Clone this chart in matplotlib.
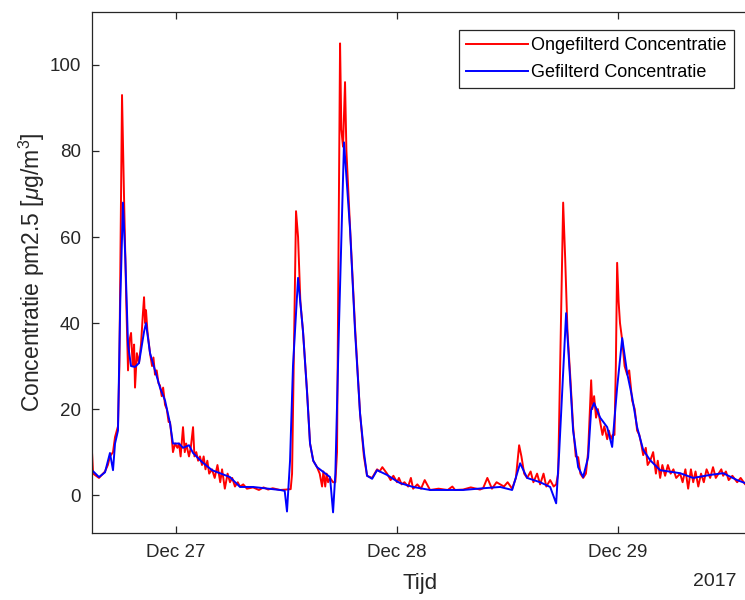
import numpy as np
import pandas as pd
import matplotlib
matplotlib.use("Agg")
import matplotlib.pyplot as plt
import matplotlib.dates as mdates

plt.rcParams['font.family'] = ['Liberation Sans', 'DejaVu Sans']
plt.rcParams['mathtext.fontset'] = 'custom'
plt.rcParams['mathtext.rm'] = 'Liberation Sans'
plt.rcParams['mathtext.it'] = 'Liberation Sans:italic'

# hours since 2017-12-26 00:00
blue_hours = [14.88, 15.64, 16.29, 16.83, 17.16, 17.38, 17.70, 17.95, 18.24, 18.50, 18.79, 19.12,
              19.55, 19.98, 20.53, 20.74, 21.18, 21.72, 22.26, 22.81, 23.35, 23.67, 24.33, 24.76,
              25.41, 25.85, 26.82, 27.91, 29.86, 30.95, 32.36, 35.29, 35.80, 36.05, 36.38, 36.70,
              37.25, 37.79, 38.23, 38.55, 38.90, 39.31, 40.72, 41.05, 41.30, 41.70, 42.24, 42.90,
              43.44, 43.98, 44.40, 44.74, 45.29, 45.83, 46.91, 48.00, 48.33, 49.74, 51.58, 55.17,
              57.34, 59.19, 60.49, 61.36, 62.12, 63.53, 64.62, 65.27, 65.60, 66.35, 66.79, 67.11,
              67.66, 68.20, 68.74, 69.07, 69.39, 70.05, 70.81, 71.35, 71.89, 72.44, 72.98, 73.52,
              74.06, 74.72, 75.48, 76.56, 78.73, 80.15, 81.99, 83.40, 84.92, 85.79, 87.40]
blue_values = [5.8, 4.2, 5.3, 9.8, 5.8, 12, 15, 45, 68, 55, 35, 30,
               29.8, 30.7, 38, 40, 33, 29, 25, 22, 16.7, 12, 12, 11,
               11.6, 9.8, 7.7, 5.8, 4.2, 1.9, 1.9, 1.2, 1.0, -3.8, 8, 30,
               50.5, 38, 23.7, 12, 8, 6.5, 4.2, -4, 5, 40, 82, 61.6,
               38, 19, 10, 4.5, 3.8, 5.8, 4.7, 3.2, 2.8, 1.9, 1.2, 1.2,
               1.6, 1.9, 1.2, 7.4, 4, 3, 1.9, -1.9, 10, 42.3, 26.7, 15,
               6.5, 4.2, 8.8, 19.8, 21.4, 18, 15.8, 11.2, 25, 36.5, 28.3, 22.8,
               15.8, 10.5, 8.1, 5.8, 5.1, 4, 4.7, 5.1, 3.5, 2.8, 2.5]

red_hours = [14.88, 15.0, 15.64, 16.29, 16.6, 16.83, 17.16, 17.38, 17.70, 17.85, 18.14, 18.35,
             18.60, 18.79, 18.95, 19.12, 19.30, 19.45, 19.55, 19.75, 19.98, 20.2, 20.40, 20.53,
             20.64, 20.74, 20.9, 21.18, 21.4, 21.55, 21.72, 21.9, 22.1, 22.26, 22.45, 22.6,
             22.81, 23.0, 23.2, 23.35, 23.55, 23.67, 23.9, 24.15, 24.33, 24.5, 24.76, 24.95,
             25.1, 25.41, 25.6, 25.85, 26.0, 26.2, 26.4, 26.6, 26.82, 27.0, 27.2, 27.4,
             27.6, 27.91, 28.2, 28.5, 28.8, 29.0, 29.3, 29.6, 29.86, 30.1, 30.4, 30.7,
             30.95, 31.3, 31.7, 32.36, 33.0, 33.5, 34.0, 34.5, 35.29, 36.0, 36.45, 36.60,
             37.03, 37.25, 37.5, 37.79, 38.23, 38.55, 38.9, 39.31, 39.6, 39.86, 40.0, 40.2,
             40.35, 40.51, 40.72, 41.05, 41.3, 41.48, 41.65, 41.81, 41.95, 42.13, 42.35, 42.5,
             42.9, 43.44, 43.98, 44.4, 44.74, 45.29, 45.83, 46.1, 46.4, 46.91, 47.3, 47.6,
             48.0, 48.2, 48.5, 48.8, 49.2, 49.5, 49.74, 50.2, 50.6, 51.0, 51.58, 52.5,
             53.5, 54.0, 54.3, 55.17, 56.0, 57.0, 57.34, 57.8, 58.3, 58.8, 59.19, 59.6,
             60.0, 60.49, 60.9, 61.25, 61.5, 61.8, 62.12, 62.5, 62.8, 63.2, 63.53, 63.9,
             64.2, 64.62, 65.0, 65.27, 65.49, 65.7, 66.03, 66.25, 66.5, 66.79, 67.11, 67.4,
             67.66, 67.9, 68.2, 68.5, 68.74, 68.9, 69.07, 69.2, 69.39, 69.6, 69.8, 70.05,
             70.3, 70.5, 70.81, 71.0, 71.2, 71.4, 71.6, 71.75, 71.89, 72.05, 72.2, 72.44,
             72.7, 72.98, 73.2, 73.52, 73.8, 74.06, 74.3, 74.5, 74.72, 75.0, 75.2, 75.48,
             75.8, 76.1, 76.3, 76.56, 76.8, 77.1, 77.4, 77.7, 78.0, 78.3, 78.73, 79.0,
             79.3, 79.6, 79.9, 80.15, 80.4, 80.7, 81.0, 81.3, 81.6, 81.99, 82.3, 82.6,
             82.9, 83.2, 83.4, 83.7, 84.0, 84.4, 84.92, 85.3, 85.79, 86.5, 87.4]
red_values = [10, 5, 4, 5.5, 7, 9, 10, 13.5, 16, 30, 93, 70,
              45, 29, 36, 37.7, 30, 35, 25, 33, 30.7, 35, 42, 46,
              40, 43, 38, 33, 30, 32, 28, 29, 26, 25.5, 23, 25,
              21, 20, 17, 17, 13, 10, 12, 11, 12, 9, 15.8, 10,
              12, 9, 11, 15.8, 9, 10, 8, 9, 7, 9, 6, 8,
              5, 6, 4, 7, 3, 6, 1.5, 5, 3, 4, 2, 3,
              2, 2.5, 1.5, 1.8, 1.2, 1.8, 1.3, 1.6, 1.2, 1.3, 1.4, 5,
              66, 60, 45, 38, 24, 12, 8, 6.5, 5, 2, 5.5, 2,
              5, 3, 4, 3, 3, 10, 60, 105, 85, 81, 96, 80,
              62, 39, 19, 9, 4.5, 4, 6, 5.5, 6.5, 5, 3.5, 4.5,
              3, 4, 2.5, 3, 2, 4, 1.5, 2.5, 1.5, 3.5, 1.2, 1.5,
              1.2, 2, 1.2, 1.3, 1.8, 1.3, 1.6, 4, 1.5, 3, 2.5, 2,
              3, 1.5, 4, 11.6, 9, 5, 4, 5.5, 3, 5, 2.5, 5,
              2, 3.5, 2, 2.5, 5, 30, 68, 55, 38, 28, 16, 9,
              8.8, 5, 4, 5, 10, 18, 26.7, 20, 23, 18, 20, 17,
              14, 16, 13, 15, 13, 14, 14, 30, 54, 45, 40, 36,
              30, 28, 29, 22, 20, 15, 14, 12, 9.3, 11, 7, 8,
              10, 5, 8, 4, 7, 4.5, 7, 5, 6, 4, 5, 3,
              6, 1.5, 6, 3, 5.5, 2, 5, 3, 6, 4, 6.5, 4,
              5, 6, 4.5, 5.5, 3.5, 4.5, 3, 4, 2.5, 3, 2.5]

y_ticks = [0, 20, 40, 60, 80, 100]

base = np.datetime64('2017-12-26T00:00')
def to_time(h):
    return base + (np.array(h) * 3600).astype('timedelta64[s]')

tb = to_time(blue_hours)
tr = to_time(red_hours)

fig = plt.figure(figsize=(7.45, 6.0), dpi=100)
ax = fig.add_axes([92/745, 67/600, (760-92)/745, 521/600])

ax.plot(tr, red_values, color=(1, 0, 0), lw=1.4, label='Ongefilterd Concentratie')
ax.plot(tb, blue_values, color=(0, 0, 1), lw=1.4, label='Gefilterd Concentratie')

ax.set_xlim(to_time([14.88])[0], to_time([87.4])[0])
ax.set_ylim(-8.8, 112.3)
ax.set_yticks(y_ticks)
ax.xaxis.set_major_locator(mdates.DayLocator())
ax.xaxis.set_major_formatter(mdates.DateFormatter('%b %d'))

gray = '#262626'
for s in ax.spines.values():
    s.set_color(gray)
    s.set_linewidth(0.9)
ax.tick_params(direction='in', length=5, width=0.9, colors=gray, labelsize=13.5,
               top=True, right=True, pad=8)

ax.set_ylabel(r'Concentratie pm2.5 [$\mu$g/m$^3$]', fontsize=16.5, color=gray)
ax.yaxis.set_label_coords((47-92)/668, 0.5)
fig.text(420/745, 1-583/600, 'Tijd', fontsize=16, color=gray, ha='center', va='center')
fig.text(737/745, 1-582/600, '2017', fontsize=14, color=gray, ha='right', va='center')

leg = ax.legend(loc='upper right', bbox_to_anchor=(734/745, 1-30/600),
                bbox_transform=fig.transFigure, borderaxespad=0, fancybox=False,
                framealpha=1, edgecolor=gray, fontsize=13, handlelength=3.4,
                handletextpad=0.2, borderpad=0.4, labelspacing=0.55)
leg.get_frame().set_linewidth(0.9)

fig.savefig('out.png', dpi=100)
